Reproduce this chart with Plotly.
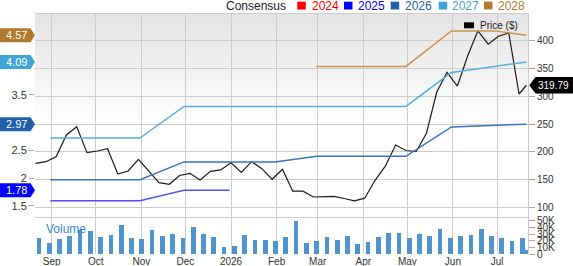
import plotly.graph_objects as go
import pandas as pd

# ---------------- data ----------------
price_first_week = "2025-08-21"
price_last_date = "2026-07-21"
price = [179.2, 182.1, 191.1, 230.2, 245.1, 198.3, 201.4, 205.5, 160.0, 165.4,
         186.4, 165.4, 144.3, 141.4, 157.3, 161.2, 149.2, 164.8, 167.2, 180.3,
         162.7, 182.1, 169.5, 150.4, 168.4, 129.0, 129.0, 118.5, 118.9, 119.8,
         115.8, 111.7, 116.4, 148.6, 174.0, 212.2, 202.3, 200.5, 233.3, 307.6,
         343.1, 318.1, 372.4, 417.8, 393.7, 408.1, 413.9, 304.0, 319.79]
volume_k = [24.2, 16.5, 22.1, 27.8, 36.0, 34.5, 25.8, 28.3, 44.3, 24.7,
            22.1, 36.6, 27.3, 29.9, 24.7, 40.7, 30.9, 25.8, 10.3, 11.8,
            28.3, 21.1, 21.1, 19.6, 25.2, 50.0, 17.0, 19.1, 26.3, 21.6,
            26.8, 14.4, 18.5, 25.2, 31.4, 32.4, 23.7, 30.9, 26.8, 38.6,
            23.7, 26.8, 28.3, 37.6, 26.8, 24.7, 20.1, 23.7, 6.2]

est_dates = ["2025-08-31", "2025-09-30", "2025-10-31", "2025-11-30", "2025-12-31", "2026-01-31",
             "2026-02-28", "2026-03-31", "2026-04-30", "2026-05-31", "2026-06-30", "2026-07-21"]
est_2025 = [1.59, 1.59, 1.59, 1.78, 1.78, None, None, None, None, None, None, None]
est_2026 = [1.97, 1.97, 1.97, 2.29, 2.29, 2.29, 2.39, 2.39, 2.39, 2.92, 2.95, 2.97]
est_2027 = [2.72, 2.72, 2.72, 3.29, 3.29, 3.29, 3.29, 3.29, 3.29, 3.90, 4.01, 4.09]
est_2028 = [None, None, None, None, None, None, 4.01, 4.01, 4.01, 4.65, 4.65, 4.57]

legend_years = ["2024", "2025", "2026", "2027", "2028"]
legend_colors = ["#ff0000", "#0000ff", "#1f5fa8", "#3fa2d4", "#b07a2f"]
line_colors = {"2025": "#5050ff", "2026": "#3c73be", "2027": "#55afdc", "2028": "#c8954f"}
badge_values = [4.57, 4.09, 2.97, 1.78]
badge_colors = ["#b07a2f", "#40a4d4", "#1e60aa", "#0000ff"]

month_ticks = ["2025-09-01", "2025-10-01", "2025-11-01", "2025-12-01", "2026-01-01", "2026-02-01",
               "2026-03-01", "2026-04-01", "2026-05-01", "2026-06-01", "2026-07-01"]
month_labels = ["Sep", "Oct", "Nov", "Dec", "2026", "Feb", "Mar", "Apr", "May", "Jun", "Jul"]
right_ticks = [100, 150, 200, 250, 300, 350, 400]
left_ticks = [1.5, 2, 2.5, 3.5]
vol_ticks = [0, 10000, 20000, 30000, 40000, 50000]
vol_labels = ["0", "10K", "20K", "30K", "40K", "50K"]

# ---------------- layout geometry ----------------
W, H = 573, 266
ML, MR, MT, MB = 35, 45, 14, 12
PW = W - ML - MR
PH = H - MT - MB
def px_x(p): return (p - ML) / PW
def px_y(p): return (H - MB - p) / PH

main_lo = px_y(217)
vol_hi = px_y(218)
P_RANGE = [82.5, 448.1]
L_RANGE = [1.298, 4.954]
X_RANGE = ["2025-08-20 15:00", "2026-07-22 02:00"]

def left_to_paper(v):
    return main_lo + (v - L_RANGE[0]) / (L_RANGE[1] - L_RANGE[0]) * (1 - main_lo)
def price_to_paper(v):
    return main_lo + (v - P_RANGE[0]) / (P_RANGE[1] - P_RANGE[0]) * (1 - main_lo)

weekly = list(pd.date_range(price_first_week, periods=len(price) - 1, freq="7D"))
price_dates = weekly + [pd.Timestamp(price_last_date)]
vol_dates = [d + pd.Timedelta(hours=54) for d in weekly] + [pd.Timestamp(price_last_date)]

FONT = "Liberation Sans, Arial, sans-serif"
fig = go.Figure()

for yr, vals in [("2025", est_2025), ("2026", est_2026), ("2027", est_2027), ("2028", est_2028)]:
    fig.add_trace(go.Scatter(x=est_dates, y=vals, mode="lines", yaxis="y3", xaxis="x",
                             line=dict(color=line_colors[yr], width=1.5), showlegend=False,
                             connectgaps=False, hoverinfo="skip"))

fig.add_trace(go.Scatter(x=price_dates, y=price, mode="lines", xaxis="x", yaxis="y",
                         line=dict(color="#1a1a1a", width=1.2), showlegend=False))

fig.add_trace(go.Bar(x=vol_dates, y=[v * 1000 for v in volume_k], xaxis="x2", yaxis="y2",
                     marker=dict(color="#4f93cf", line=dict(width=0)),
                     width=3.2 * 86400000, showlegend=False))

shapes = []
# gradient background in main panel
top, bot, step = 14, 124, 5
p = top
while p < bot:
    t = (p - top) / (bot - top)
    g = int(round(229 + (255 - 229) * t))
    shapes.append(dict(type="rect", xref="paper", yref="paper", x0=0, x1=1,
                       y0=px_y(min(p + step, bot)), y1=px_y(p), layer="below",
                       line=dict(width=0), fillcolor=f"rgb({g},{g},{g})"))
    p += step

annotations = []
# left badges
hh = 7 / PH
for v, c in zip(badge_values, badge_colors):
    yc = left_to_paper(v)
    x0, x1, xt = px_x(0), px_x(30.5), px_x(35)
    shapes.append(dict(type="path", xref="paper", yref="paper",
                       path=f"M {x0},{yc-hh} L {x1},{yc-hh} L {xt},{yc} L {x1},{yc+hh} L {x0},{yc+hh} Z",
                       fillcolor=c, line=dict(width=0), layer="above"))
    annotations.append(dict(x=px_x(16), y=yc, xref="paper", yref="paper", text=f"{v:.2f}",
                            showarrow=False, xanchor="center", yanchor="middle",
                            font=dict(color="white", size=11, family=FONT)))

# right price badge
last_price = price[-1]
yc = price_to_paper(last_price)
hh2 = 8.3 / PH
xt, x1, x2 = px_x(529.3), px_x(535.5), px_x(585)
shapes.append(dict(type="path", xref="paper", yref="paper",
                   path=f"M {xt},{yc} L {x1},{yc-hh2} L {x2},{yc-hh2} L {x2},{yc+hh2} L {x1},{yc+hh2} Z",
                   fillcolor="black", line=dict(width=0), layer="above"))
annotations.append(dict(x=px_x(553), y=yc, xref="paper", yref="paper", text=f"{last_price:.2f}",
                        showarrow=False, xanchor="center", yanchor="middle",
                        font=dict(color="white", size=10, family=FONT)))

# consensus legend
annotations.append(dict(x=px_x(224), y=px_y(5.5), xref="paper", yref="paper", text="Consensus",
                        showarrow=False, xanchor="left", yanchor="middle",
                        font=dict(color="#222", size=12, family=FONT)))
sq_x = [297.3, 344, 390.7, 438.7, 484]
tx_x = [310, 355.7, 403, 449.7, 496]
for yr, c, sx, tx in zip(legend_years, legend_colors, sq_x, tx_x):
    shapes.append(dict(type="rect", xref="paper", yref="paper", x0=px_x(sx), x1=px_x(sx + 8.5),
                       y0=px_y(9.5), y1=px_y(1.7), fillcolor=c, line=dict(width=0), layer="above"))
    annotations.append(dict(x=px_x(tx), y=px_y(5.5), xref="paper", yref="paper", text=yr,
                            showarrow=False, xanchor="left", yanchor="middle",
                            font=dict(color=c, size=12, family=FONT)))

# price legend
shapes.append(dict(type="rect", xref="paper", yref="paper", x0=px_x(464), x1=px_x(474),
                   y0=px_y(28.3), y1=px_y(22.3), fillcolor="black", line=dict(width=0), layer="above"))
annotations.append(dict(x=px_x(478), y=px_y(25.8), xref="paper", yref="paper", text="Price ($)",
                        showarrow=False, xanchor="left", yanchor="middle",
                        font=dict(color="#222", size=10, family=FONT)))
# volume label
annotations.append(dict(x=px_x(44), y=px_y(229.3), xref="paper", yref="paper", text="Volume",
                        showarrow=False, xanchor="left", yanchor="middle",
                        font=dict(color="#3a8ad2", size=12, family=FONT)))

GRID = "#cccccc"
fig.update_layout(
    width=W, height=H,
    margin=dict(l=ML, r=MR, t=MT, b=MB, pad=0, autoexpand=False),
    paper_bgcolor="white", plot_bgcolor="rgba(0,0,0,0)",
    font=dict(family=FONT, size=10, color="#333"),
    showlegend=False, bargap=0,
    shapes=shapes, annotations=annotations,
    xaxis=dict(domain=[0, 1], anchor="y", range=X_RANGE, type="date", automargin=False,
               tickvals=month_ticks, showticklabels=False, showgrid=True, gridcolor=GRID,
               ticks="", showline=True, linecolor=GRID, mirror=True, zeroline=False),
    xaxis2=dict(domain=[0, 1], anchor="y2", range=X_RANGE, type="date", matches="x",
                automargin=False,
                tickvals=month_ticks, ticktext=month_labels, showgrid=True, gridcolor=GRID,
                ticks="", showline=False, zeroline=False,
                tickfont=dict(size=10, color="#333", family=FONT)),
    yaxis=dict(domain=[main_lo, 1], anchor="x", side="right", range=P_RANGE, automargin=False,
               tickvals=right_ticks, showgrid=True, gridcolor=GRID, ticks="outside",
               ticklen=6, tickcolor="#aaa", showline=True, linecolor=GRID, zeroline=False,
               tickfont=dict(size=10, color="#333", family=FONT)),
    yaxis3=dict(overlaying="y", anchor="x", side="left", range=L_RANGE, automargin=False,
                tickvals=left_ticks, ticktext=[str(t) for t in left_ticks], showgrid=False,
                ticks="outside", ticklen=5, tickcolor="#aaa", zeroline=False, showline=False,
                tickfont=dict(size=11, color="#333", family=FONT)),
    yaxis2=dict(domain=[0, vol_hi], anchor="x2", side="right", range=[0, 54500], automargin=False,
                tickvals=vol_ticks, ticktext=vol_labels, showgrid=False, ticks="outside",
                ticklen=6, tickcolor="#aaa", showline=True, linecolor=GRID, zeroline=False,
                tickfont=dict(size=10, color="#333", family=FONT)),
)

fig.write_html("out.html")
